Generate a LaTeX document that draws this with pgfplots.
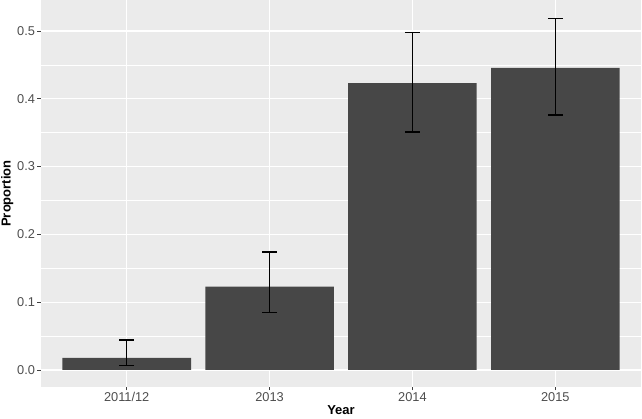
\documentclass[border=0pt]{standalone}
\usepackage{fontspec}
\setmainfont{Liberation Sans}
\usepackage{pgfplots}
\pgfplotsset{compat=1.18}
\definecolor{panel}{HTML}{EBEBEB}
\definecolor{barc}{HTML}{474747}
\definecolor{tickc}{HTML}{4D4D4D}
\begin{document}
\begin{tikzpicture}[x=1pt,y=1pt]
\path[use as bounding box] (-41,-32) rectangle (601,387);
\begin{axis}[
 scale only axis, width=600pt, height=387pt,
 at={(0,0)}, anchor=south west,
 xmin=0.4, xmax=4.6, ymin=-0.0251, ymax=0.5457,
 axis background/.style={fill=panel},
 axis line style={draw=none},
 xtick={1,2,3,4}, xticklabels={2011/12,2013,2014,2015},
 ytick={0,0.1,0.2,0.3,0.4,0.5},
 yticklabels={0.0,0.1,0.2,0.3,0.4,0.5},
 minor ytick={0.05,0.15,0.25,0.35,0.45},
 grid=both,
 major grid style={white, line width=1.1pt},
 minor grid style={white, line width=0.55pt},
 tick align=outside, xtick pos=bottom, ytick pos=left,
 major tick length=3.5pt, minor tick length=0pt,
 tick style={color=black!75, line width=0.8pt},
 ticklabel style={font=\fontsize{12.8}{14}\selectfont, color=tickc},
 yticklabel style={xshift=1pt},
 xticklabel style={yshift=1.5pt},
 label style={font=\bfseries\fontsize{13}{15}\selectfont, color=black},
 xlabel={Year}, ylabel={Proportion},
 xlabel style={yshift=3pt},
 ylabel style={yshift=-3pt},
]
\addplot[ybar, bar width=0.9, bar shift=0pt, fill=barc, draw=none] coordinates {
 (1,0.018) (2,0.123) (3,0.423) (4,0.4455)
};
\addplot[draw=none, mark=none, forget plot,
 error bars/.cd, y dir=both, y explicit,
 error bar style={black, line width=1.3pt},
 error mark options={rotate=90, mark size=7.5pt, black, line width=1.3pt}]
 coordinates {
 (1,0.018) += (0,0.026) -= (0,0.011)
 (2,0.123) += (0,0.051) -= (0,0.0385)
 (3,0.423) += (0,0.0745) -= (0,0.072)
 (4,0.4455) += (0,0.0725) -= (0,0.0695)
};
\end{axis}
\end{tikzpicture}
\end{document}
